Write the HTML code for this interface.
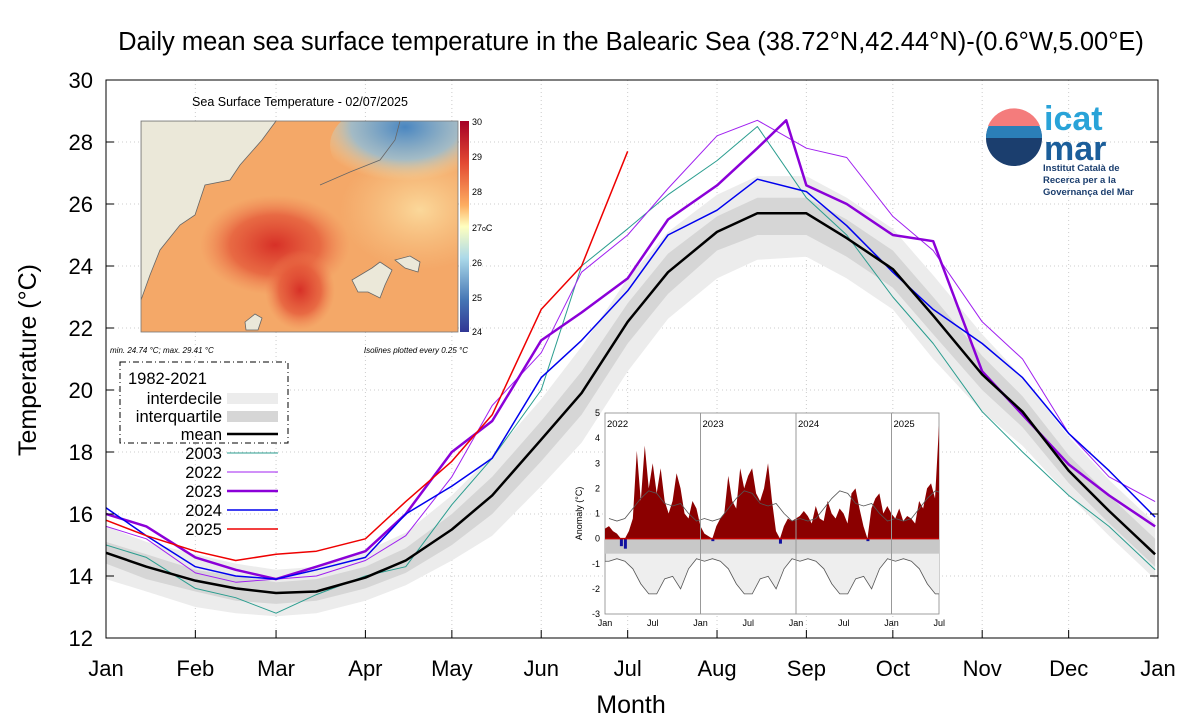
<!DOCTYPE html>
<html><head><meta charset="utf-8"><style>
html,body{margin:0;padding:0;background:#fff;}
svg{display:block;font-family:"Liberation Sans",sans-serif;}
</style></head><body>
<svg id="chart" width="1200" height="723" viewBox="0 0 1200 723" xmlns="http://www.w3.org/2000/svg">
<defs>
<radialGradient id="gRed" cx="50%" cy="50%" r="50%"><stop offset="0" stop-color="#d73027"/><stop offset="0.6" stop-color="#e55a3a" stop-opacity="0.8"/><stop offset="1" stop-color="#f08050" stop-opacity="0"/></radialGradient>
<radialGradient id="gBlue" cx="50%" cy="30%" r="60%"><stop offset="0" stop-color="#4a86c0"/><stop offset="0.6" stop-color="#8fbfdc" stop-opacity="0.8"/><stop offset="1" stop-color="#f7e6b0" stop-opacity="0"/></radialGradient>
<radialGradient id="gYel" cx="50%" cy="50%" r="50%"><stop offset="0" stop-color="#fbd89a"/><stop offset="1" stop-color="#f8c888" stop-opacity="0"/></radialGradient>
<linearGradient id="cbar" x1="0" y1="0" x2="0" y2="1"><stop offset="0" stop-color="#a50026"/><stop offset="0.2" stop-color="#e34a33"/><stop offset="0.4" stop-color="#fdae61"/><stop offset="0.5" stop-color="#ffffbf"/><stop offset="0.65" stop-color="#abd9e9"/><stop offset="0.85" stop-color="#4575b4"/><stop offset="1" stop-color="#313695"/></linearGradient>
<clipPath id="plotClip"><rect x="106" y="80" width="1052" height="558"/></clipPath>
<clipPath id="mapClip"><rect x="141" y="121" width="317" height="211"/></clipPath>
<clipPath id="anomClip"><rect x="605" y="413" width="334" height="201"/></clipPath>
</defs>
<text x="631" y="50" text-anchor="middle" font-size="25.5" fill="#000">Daily mean sea surface temperature in the Balearic Sea (38.72°N,42.44°N)-(0.6°W,5.00°E)</text>
<g id="grid"></g>
<g id="bands" clip-path="url(#plotClip)"></g>
<g id="lines" clip-path="url(#plotClip)"></g>
<rect x="106" y="80" width="1052" height="558" fill="none" stroke="#000" stroke-width="1"/>
<g id="axes"></g>
<text x="631" y="713" text-anchor="middle" font-size="25">Month</text>
<text transform="translate(36,360) rotate(-90)" text-anchor="middle" font-size="25">Temperature (°C)</text>

<g>
<text x="300" y="106" text-anchor="middle" font-size="12.5">Sea Surface Temperature - 02/07/2025</text>
<g clip-path="url(#mapClip)">
<rect x="141" y="121" width="317" height="211" fill="#f4a868"/>
<ellipse cx="420" cy="210" rx="80" ry="60" fill="url(#gYel)"/>
<ellipse cx="405" cy="145" rx="75" ry="45" fill="url(#gBlue)"/>
<ellipse cx="275" cy="245" rx="75" ry="50" fill="url(#gRed)"/>
<ellipse cx="300" cy="290" rx="35" ry="40" fill="url(#gRed)"/>
<polygon points="141,121 276,121 262,140 240,165 230,180 205,185 200,200 195,215 180,225 160,250 150,275 141,300" fill="#ebe8d9" stroke="#666" stroke-width="0.8"/>
<path d="M340,121 L400,121 395,140 380,160 350,172 320,185" fill="none" stroke="#666" stroke-width="0.8"/>
<polygon points="352,280 372,268 380,262 392,270 385,285 380,298 368,292 358,292" fill="#ebe8d9" stroke="#666" stroke-width="0.8"/>
<polygon points="395,260 410,256 420,262 418,272 405,268" fill="#ebe8d9" stroke="#666" stroke-width="0.8"/>
<polygon points="245,322 255,314 262,318 258,330 246,330" fill="#ebe8d9" stroke="#666" stroke-width="0.8"/>
</g>
<rect x="141" y="121" width="317" height="211" fill="none" stroke="#777" stroke-width="0.8"/>
<rect x="460" y="121" width="9" height="211" fill="url(#cbar)"/>
<g font-size="9" fill="#000">
<text x="472" y="125">30</text><text x="472" y="160">29</text><text x="472" y="195">28</text><text x="472" y="231">27<tspan font-size="7">o</tspan>C</text><text x="472" y="266">26</text><text x="472" y="301">25</text><text x="472" y="335">24</text>
</g>
<text x="110" y="353" font-size="8" font-style="italic">min. 24.74 °C; max. 29.41 °C</text>
<text x="468" y="353" font-size="8" font-style="italic" text-anchor="end">Isolines plotted every 0.25 °C</text>
</g>

<g>
<rect x="120" y="362" width="168" height="81" fill="#fff" stroke="#000" stroke-width="1" stroke-dasharray="6,3,1,3"/>
<text x="128" y="384" font-size="16.5">1982-2021</text>
<g font-size="16.5" text-anchor="end">
<text x="222" y="404">interdecile</text>
<text x="222" y="422">interquartile</text>
<text x="222" y="440">mean</text>
<text x="222" y="459">2003</text>
<text x="222" y="478">2022</text>
<text x="222" y="497">2023</text>
<text x="222" y="516">2024</text>
<text x="222" y="535">2025</text>
</g>
<rect x="227" y="393" width="51" height="11" fill="#ececec"/>
<rect x="227" y="411" width="51" height="11" fill="#d6d6d6"/>
<line x1="227" y1="434" x2="278" y2="434" stroke="#000" stroke-width="2.5"/>
<line x1="227" y1="453" x2="278" y2="453" stroke="#2a9d8f" stroke-width="1"/>
<line x1="227" y1="472" x2="278" y2="472" stroke="#a020f0" stroke-width="1"/>
<line x1="227" y1="491" x2="278" y2="491" stroke="#8b00d8" stroke-width="2.5"/>
<line x1="227" y1="510" x2="278" y2="510" stroke="#0000ee" stroke-width="1.5"/>
<line x1="227" y1="529" x2="278" y2="529" stroke="#ee0000" stroke-width="1.5"/>
</g>

<g>
<circle cx="1014" cy="138" r="28" fill="#1b3e6e"/>
<path d="M986,138 A28,28 0 0 1 1042,138 Z" fill="#2b7fb8"/>
<path d="M988,126 A28,28 0 0 1 1040,126 Z" fill="#f47c7c"/>
<text x="1044" y="130" font-size="34" font-weight="bold" fill="#29a3d8">icat</text>
<text x="1044" y="160" font-size="34" font-weight="bold" fill="#1b5e9a">mar</text>
<g font-size="9.5" font-weight="bold" fill="#1b3e6e">
<text x="1043" y="171">Institut Català de</text>
<text x="1043" y="183">Recerca per a la</text>
<text x="1043" y="195">Governança del Mar</text>
</g>
</g>

<g id="anom"></g>
</svg>
<script>
const dayIdx = [0,14,31,45,59,73,90,104,120,134,151,165,181,195,212,226,243,257,273,287,304,318,334,348,364];
const meanT = [14.75,14.3,13.85,13.6,13.45,13.5,13.95,14.5,15.5,16.6,18.4,19.9,22.2,23.8,25.1,25.7,25.7,24.9,23.9,22.4,20.5,19.3,17.4,16.1,14.7];
const p10 = [13.9,13.5,13.0,12.8,12.7,12.8,13.2,13.7,14.5,15.3,16.9,18.3,20.6,22.3,23.6,24.2,24.3,23.6,22.6,21.0,19.3,18.2,16.6,15.3,13.9];
const p25 = [14.4,13.9,13.5,13.2,13.1,13.2,13.6,14.1,15.0,16.0,17.7,19.2,21.5,23.1,24.5,25.0,25.0,24.3,23.3,21.8,20.0,18.8,17.0,15.7,14.3];
const p75 = [15.1,14.7,14.2,14.0,13.8,13.9,14.3,14.9,16.0,17.2,19.0,20.6,22.8,24.4,25.6,26.2,26.2,25.5,24.5,23.0,21.1,19.8,17.9,16.6,15.2];
const p90 = [15.6,15.1,14.7,14.4,14.2,14.3,14.8,15.4,16.6,17.9,19.7,21.4,23.6,25.1,26.3,26.9,26.9,26.2,25.2,23.7,21.8,20.4,18.5,17.1,15.7];
const y2003 = [15.0,14.6,13.6,13.3,12.8,13.4,14.0,14.3,16.3,17.8,20.0,24.0,25.2,26.3,27.4,28.5,26.2,25.0,23.0,21.5,19.3,18.0,16.6,15.6,14.2];
const y2022 = [15.6,15.2,14.1,13.8,13.9,14.0,14.5,15.3,17.2,19.5,21.2,23.8,25.0,26.5,28.2,28.7,27.8,27.5,25.6,24.5,22.2,21.0,18.6,17.2,16.4];
const y2023 = [16.0,15.6,14.6,14.2,13.9,14.3,14.8,16.0,18.0,19.0,21.6,22.5,23.6,25.5,26.6,27.8,26.6,26.0,25.0,24.8,20.6,19.2,17.6,16.6,15.6];
const y2024 = [16.2,15.3,14.3,14.0,13.9,14.2,14.6,16.0,16.9,17.8,20.4,21.6,23.2,25.0,25.8,26.8,26.4,25.3,23.8,22.6,21.5,20.4,18.6,17.4,15.9];
const y2025 = [15.8,15.3,14.8,14.5,14.7,14.8,15.2,16.4,17.7,19.2,22.6,24.0,27.7];
const peak2023Day = 236, peak2023Val = 28.7;
const monthLabels = ["Jan","Feb","Mar","Apr","May","Jun","Jul","Aug","Sep","Oct","Nov","Dec","Jan"];
const monthStarts = [0,31,59,90,120,151,181,212,243,273,304,334,365];
const yTicks = [12,14,16,18,20,22,24,26,28,30];

const anomVals = [0.4,0.5,0.3,0.2,-0.3,-0.4,0.3,0.8,3.5,1.5,3.7,2.0,3.0,1.8,2.8,1.5,1.0,1.5,2.6,2.0,1.0,0.8,1.5,1.2,
 0.5,0.2,0.1,-0.1,0.5,0.8,1.0,2.5,1.5,1.2,2.8,2.0,2.5,2.8,1.8,1.5,2.0,3.0,1.5,0.3,-0.2,0.5,0.8,0.7,
 0.8,0.9,1.1,0.9,0.6,1.3,0.8,0.7,1.5,1.0,0.8,1.2,1.0,0.6,1.8,2.0,1.2,0.5,-0.1,1.2,1.6,1.8,1.0,1.3,
 1.0,0.8,1.2,0.7,0.9,0.8,0.6,1.5,1.2,2.0,2.2,1.6,4.5];
const anomP10 = [-0.9,-0.8,-0.9,-1.2,-1.8,-2.2,-2.2,-1.6,-1.5,-2.0,-1.2,-0.8];
const anomP90 = [0.8,0.7,0.8,1.2,1.6,1.9,1.8,1.4,1.3,1.4,1.0,0.7];
const anomTicks = [-3,-2,-1,0,1,2,3,4,5];
const anomYears = ["2022","2023","2024","2025"];

const NS = "http://www.w3.org/2000/svg";
const X0=106, X1=1158, Y0=80, Y1=638, TMIN=12, TMAX=30;
function xS(d){return X0 + d*(X1-X0)/365;}
function yS(t){return Y1 - (t-TMIN)*(Y1-Y0)/(TMAX-TMIN);}
function mk(tag, attrs, parent){const e=document.createElementNS(NS,tag);for(const k in attrs)e.setAttribute(k,attrs[k]);parent.appendChild(e);return e;}

const grid=document.getElementById('grid'), axes=document.getElementById('axes');
monthStarts.forEach((d,i)=>{
  const x=xS(d);
  if(i>0&&i<12){const g=mk('line',{x1:x,x2:x,y1:Y0,y2:Y1,stroke:'#ccc','stroke-dasharray':'1,3'},grid);
  
  }
  const t=mk('line',{x1:x,x2:x,y1:Y1,y2:Y1-8,stroke:'#000'},axes);
  
  
  const l=mk('text',{x:x,y:676,'text-anchor':'middle','font-size':'22'},axes);l.textContent=monthLabels[i];
  
  
});
yTicks.forEach(v=>{
  const y=yS(v);
  if(v>TMIN&&v<TMAX){const g=mk('line',{x1:X0,x2:X1,y1:y,y2:y,stroke:'#ccc','stroke-dasharray':'1,3'},grid);
  
  }
  const t=mk('line',{x1:X0,x2:X0+8,y1:y,y2:y,stroke:'#000'},axes);
  
  
  const t2=mk('line',{x1:X1,x2:X1-8,y1:y,y2:y,stroke:'#000'},axes);
  
  
  const l=mk('text',{x:93,y:y+8,'text-anchor':'end','font-size':'22'},axes);l.textContent=v;
  
  
});
function band(lo,hi,fill,name){
  let pts=dayIdx.map((d,i)=>xS(d)+','+yS(hi[i]));
  pts=pts.concat(dayIdx.slice().reverse().map((d,j)=>{const i=dayIdx.length-1-j;return xS(d)+','+yS(lo[i]);}));
  const p=mk('polygon',{points:pts.join(' '),fill:fill},document.getElementById('bands'));
  
  
}
band(p10,p90,'#ececec','interdecile-band');
band(p25,p75,'#d6d6d6','interquartile-band');
function line(vals,color,w,name,extra){
  let pairs=vals.map((v,i)=>[dayIdx[i],v]);
  if(extra){pairs.push(extra);pairs.sort((a,b)=>a[0]-b[0]);}
  const pts=pairs.map(p=>xS(p[0])+','+yS(p[1])).join(' ');
  const p=mk('polyline',{points:pts,fill:'none',stroke:color,'stroke-width':w,'stroke-linejoin':'round'},document.getElementById('lines'));
  
  
}
line(y2003,'#2a9d8f',1,'line-2003');
line(y2022,'#a020f0',1,'line-2022');
line(y2023,'#8b00d8',2.5,'line-2023',[peak2023Day,peak2023Val]);
line(y2024,'#0000ee',1.5,'line-2024');
line(y2025,'#ee0000',1.5,'line-2025');
line(meanT,'#000',2.5,'line-mean');

const A=document.getElementById('anom');
const AX0=605, AX1=939, AY0=413, AY1=614, AMIN=-3, AMAX=5, YEARW=95.5;
function axS(m){return AX0 + m*YEARW/12;}
function ayS(v){return AY1 - (v-AMIN)*(AY1-AY0)/(AMAX-AMIN);}
const bg=mk('rect',{x:AX0,y:AY0,width:AX1-AX0,height:AY1-AY0,fill:'#fff',stroke:'#888','stroke-width':'0.8'},A);


const AC=mk('g',{'clip-path':'url(#anomClip)'},A);


const nM=42;
let lowPts=[], hiPts=[];
for(let m=0;m<=nM;m++){lowPts.push(axS(m+0.5)+','+ayS(anomP10[m%12]));hiPts.push(axS(m+0.5)+','+ayS(anomP90[m%12]));}
const env=mk('polygon',{points:(AX0+','+ayS(0)+' '+AX0+','+ayS(anomP10[0])+' '+lowPts.join(' ')+' '+axS(nM+0.5)+','+ayS(0)),fill:'#eee',stroke:'#555','stroke-width':'0.8'},AC);


const iq=mk('rect',{x:AX0,y:ayS(0),width:AX1-AX0,height:ayS(-0.6)-ayS(0),fill:'#c8c8c8'},AC);


const step=(AX1-AX0)/(anomVals.length-1);
let ap=[AX0+','+ayS(0)];
anomVals.forEach((v,i)=>{ap.push((AX0+i*step)+','+ayS(Math.max(v,0)));});
ap.push((AX0+(anomVals.length-1)*step)+','+ayS(0));
const af=mk('polygon',{points:ap.join(' '),fill:'#8b0000'},AC);


anomVals.forEach((v,i)=>{ if(v<0){const r=mk('rect',{x:AX0+i*step-1,y:ayS(0),width:3,height:ayS(v)-ayS(0),fill:'#1010a0'},AC);
  
  }});
const hl=mk('polyline',{points:hiPts.join(' '),fill:'none',stroke:'#555','stroke-width':'0.8'},AC);


const zl=mk('line',{x1:AX0,x2:AX1,y1:ayS(0),y2:ayS(0),stroke:'#c00000','stroke-width':'1.5'},AC);


anomYears.forEach((yr,i)=>{
  const x=AX0+i*YEARW;
  if(i>0){const l=mk('line',{x1:x,x2:x,y1:AY0,y2:AY1,stroke:'#999'},A);
  
  }
  const t=mk('text',{x:x+2,y:AY0+14,'font-size':'9.5'},A);t.textContent=yr;
  
  
});
anomTicks.forEach(v=>{
  const t=mk('text',{x:AX0-5,y:ayS(v)+3,'text-anchor':'end','font-size':'9'},A);t.textContent=v;
  
  
});
for(let m=0;m<=nM;m+=6){
  const t=mk('text',{x:axS(m),y:AY1+12,'text-anchor':'middle','font-size':'9'},A);t.textContent=(m%12===0)?'Jan':'Jul';
  
  
}
const at=mk('text',{transform:'translate(582,'+((AY0+AY1)/2)+') rotate(-90)','text-anchor':'middle','font-size':'9'},A);
at.textContent='Anomaly (°C)';


</script>
</body></html>
